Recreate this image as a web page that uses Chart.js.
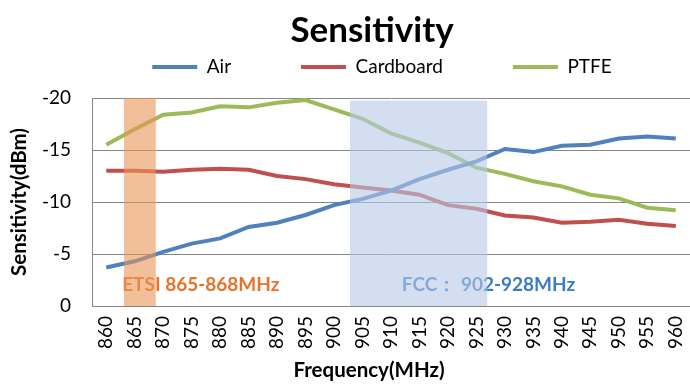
<!DOCTYPE html>
<html>
<head>
<meta charset="utf-8">
<script src="https://cdn.jsdelivr.net/npm/chart.js@4/dist/chart.umd.min.js"></script>
<style>
  html, body { margin: 0; padding: 0; background: #fff; }
  #wrap { width: 690px; height: 385px; }
</style>
</head>
<body>
<div id="wrap"><canvas id="sens"></canvas></div>
<script>
const frequencies = ['860','865','870','875','880','885','890','895','900','905','910',
                     '915','920','925','930','935','940','945','950','955','960'];
const air       = [-3.7,-4.3,-5.2,-6.0,-6.5,-7.6,-8.0,-8.75,-9.7,-10.3,-11.1,
                   -12.2,-13.1,-13.9,-15.1,-14.8,-15.4,-15.5,-16.1,-16.3,-16.1];
const cardboard = [-13.0,-13.0,-12.9,-13.1,-13.2,-13.1,-12.5,-12.2,-11.7,-11.4,-11.1,
                   -10.7,-9.7,-9.35,-8.7,-8.5,-8.0,-8.1,-8.3,-7.9,-7.7];
const ptfe      = [-15.5,-17.0,-18.4,-18.6,-19.2,-19.1,-19.55,-19.8,-18.9,-18.0,-16.6,
                   -15.7,-14.7,-13.3,-12.7,-12.0,-11.5,-10.7,-10.35,-9.45,-9.2];
const yTicks = [-20, -15, -10, -5, 0];

// highlighted bands (MHz) and their captions
const bandNames  = ['ETSI 865-868MHz', 'FCC\uFF1A 902-928MHz'];
const bandStart  = [863.1, 902.8];
const bandEnd    = [868.7, 926.9];
const bandTop    = [-20, -19.75];
const labelFreq  = [862.8, 911.9];
const labelLevel = -2.0;

const FONT = 'Lato, "Open Sans", sans-serif';
const bandFill  = ['rgba(232,150,88,0.6)', 'rgba(182,202,230,0.6)'];
const bandColor = ['#e8732a', '#3a7cc4'];

// freq (MHz) -> fractional category index
function freqIndex(f) { return (f - 860) / 5; }

const bandsPlugin = {
    id: 'bands',
    afterDatasetsDraw(chart) {
        const ctx = chart.ctx, xs = chart.scales.x, ys = chart.scales.y;
        const bottom = ys.getPixelForValue(0);
        ctx.save();
        ctx.font = 'bold 19px ' + FONT;
        ctx.textBaseline = 'middle';
        ctx.textAlign = 'left';
        bandNames.forEach((name, i) => {
            ctx.fillStyle = bandColor[i];
            ctx.fillText(name, xs.getPixelForValue(freqIndex(labelFreq[i])), ys.getPixelForValue(labelLevel));
        });
        bandNames.forEach((name, i) => {
            const x0 = xs.getPixelForValue(freqIndex(bandStart[i]));
            const x1 = xs.getPixelForValue(freqIndex(bandEnd[i]));
            const top = ys.getPixelForValue(bandTop[i]);
            ctx.fillStyle = bandFill[i];
            ctx.fillRect(x0, top, x1 - x0, bottom - top);
        });
        ctx.restore();
    }
};

// Excel-style header: title and legend sit right of canvas centre, legend items spread out
const LEGEND_PAD = 70;
const headerPlugin = {
    id: 'header',
    beforeLayout(chart) {
        const lg = chart.legend;
        if (lg && !lg._patched) {
            const fit = lg.fit;
            lg.fit = function() { fit.call(this); this.height = 46; };
            lg._patched = true;
        }
    },
    afterLayout(chart) {
        const t = chart.titleBlock, lg = chart.legend;
        t.left += 27; t.right += 27;
        lg.left += 37; lg.right += 37;
        lg.top = 67 - 9.5 - LEGEND_PAD;
        const xs = chart.scales.x;
        if (!xs._patched) {
            const dt = xs.drawTitle;
            xs.drawTitle = function() {
                this.ctx.save();
                this.ctx.translate(-22, 0);
                dt.call(this);
                this.ctx.restore();
            };
            xs._patched = true;
        }
    }
};

function lineSet(label, data, color) {
    return {
        label: label,
        data: data,
        borderColor: color,
        backgroundColor: color,
        borderWidth: 4,
        pointRadius: 0,
        tension: 0,
        fill: false,
        pointStyle: 'line'
    };
}

new Chart(document.getElementById('sens'), {
    type: 'line',
    data: {
        labels: frequencies,
        datasets: [
            lineSet('Air', air, '#4f81bd'),
            lineSet('Cardboard', cardboard, '#c0504d'),
            lineSet('PTFE', ptfe, '#9bbb59')
        ]
    },
    options: {
        responsive: true,
        maintainAspectRatio: false,
        animation: false,
        layout: { padding: 0 },
        plugins: {
            tooltip: { enabled: false },
            title: {
                display: true,
                text: 'Sensitivity',
                color: '#000',
                font: { family: FONT, size: 35, weight: 'bold' },
                padding: { top: 10, bottom: 0 }
            },
            legend: {
                display: true,
                labels: {
                    usePointStyle: true,
                    pointStyle: 'line',
                    pointStyleWidth: 45,
                    padding: LEGEND_PAD,
                    color: '#000',
                    font: { family: FONT, size: 19 }
                }
            }
        },
        scales: {
            x: {
                offset: true,
                grid: { display: false, drawTicks: false },
                border: { display: true, color: '#868686', width: 1 },
                ticks: {
                    color: '#000',
                    font: { family: FONT, size: 19 },
                    minRotation: 90,
                    maxRotation: 90,
                    padding: 10,
                    autoSkip: false
                },
                title: {
                    display: true,
                    text: 'Frequency(MHz)',
                    color: '#000',
                    font: { family: FONT, size: 20.5, weight: 'bold' },
                    padding: { top: 0, bottom: 2 }
                },
                afterFit(scale) {
                    scale.height = 79;
                    scale.paddingLeft = 0;
                    scale.paddingRight = 0;
                }
            },
            y: {
                reverse: true,
                min: -20,
                max: 0,
                afterBuildTicks(scale) { scale.ticks = yTicks.map(v => ({ value: v })); },
                grid: { color: '#868686', lineWidth: 1, drawTicks: false },
                border: { display: true, color: '#868686', width: 1 },
                ticks: {
                    color: '#000',
                    font: { family: FONT, size: 19 },
                    padding: 21
                },
                title: {
                    display: true,
                    text: 'Sensitivity(dBm)',
                    color: '#000',
                    font: { family: FONT, size: 20.5, weight: 'bold' },
                    padding: { top: 7, bottom: 0 }
                },
                afterFit(scale) { scale.width = 92; }
            }
        }
    },
    plugins: [bandsPlugin, headerPlugin]
});
</script>
</body>
</html>
